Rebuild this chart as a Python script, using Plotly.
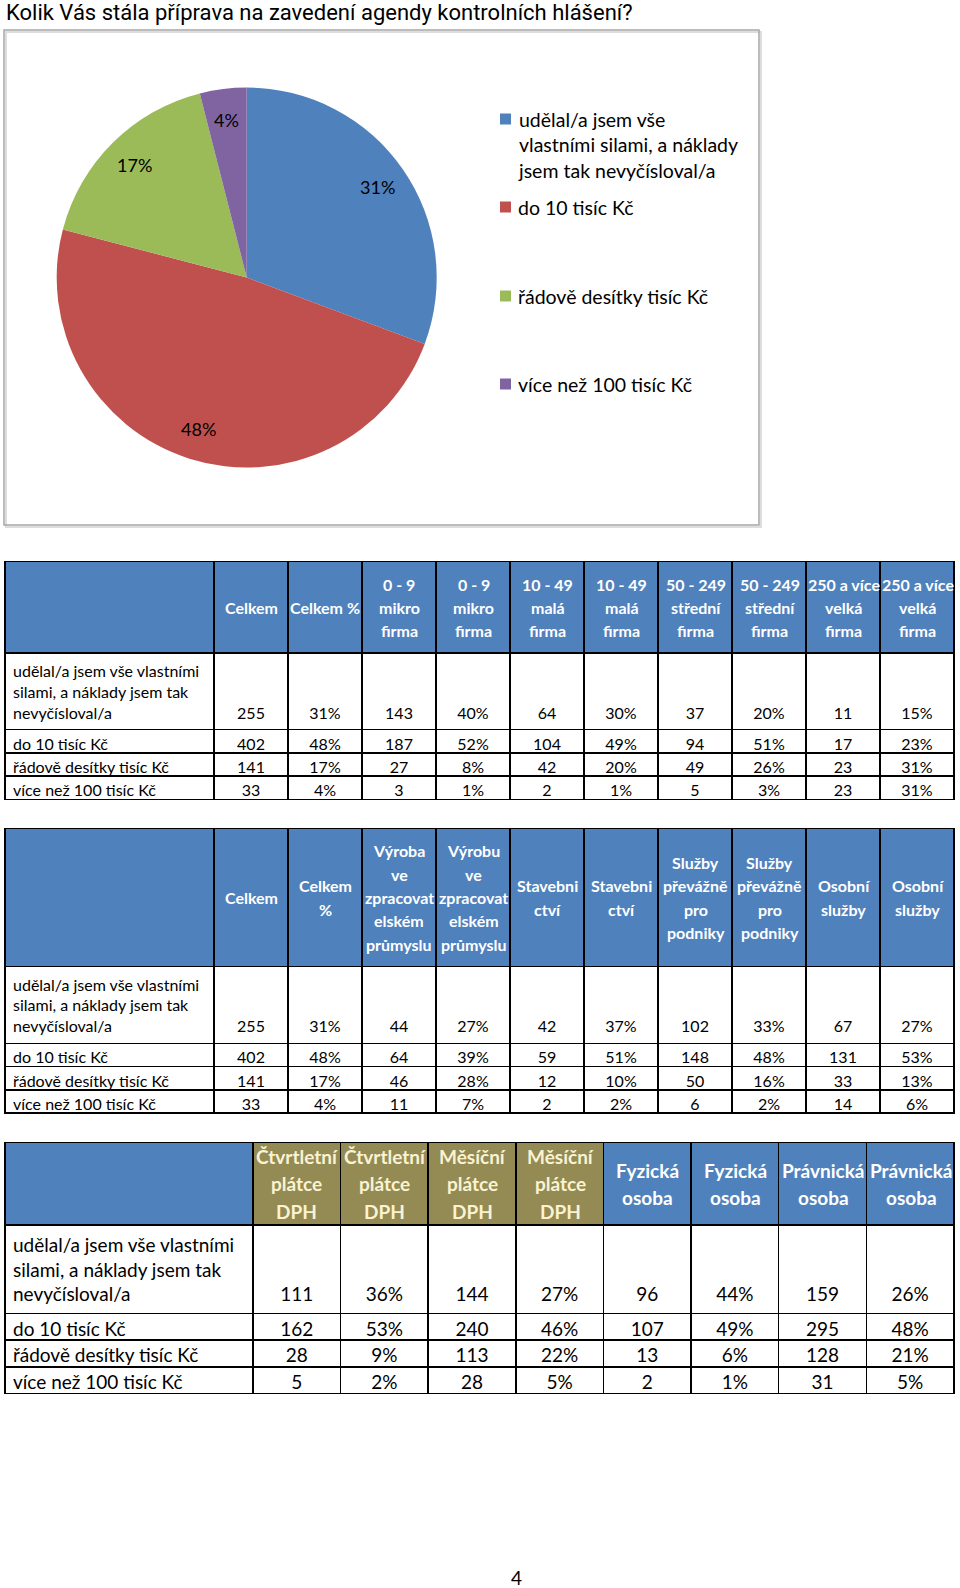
import math
import plotly.graph_objects as go

W, H = 960, 1588

# --- data ---
title = "Kolik Vás stála příprava na zavedení agendy kontrolních hlášení?"
legend_labels = [
    "udělal/a jsem vše<br>vlastními silami, a náklady<br>jsem tak nevyčísloval/a",
    "do 10 tisíc Kč",
    "řádově desítky tisíc Kč",
    "více než 100 tisíc Kč",
]
row_labels = [
    "udělal/a jsem vše vlastními<br>silami, a náklady jsem tak<br>nevyčísloval/a",
    "do 10 tisíc Kč",
    "řádově desítky tisíc Kč",
    "více než 100 tisíc Kč",
]
colors = ["#4F81BD", "#C0504D", "#9BBB59", "#8064A2"]

total_headers = ["Celkem", "Celkem %"]
total_n = [255, 402, 141, 33]
total_pct = [31, 48, 17, 4]

# table 1: firm size
size_headers = ["0 - 9<br>mikro<br>firma", "10 - 49<br>malá<br>firma",
                "50 - 249<br>střední<br>firma", "250 a více<br>velká<br>firma"]
size_n = [[143, 187, 27, 3], [64, 104, 42, 2], [37, 94, 49, 5], [11, 17, 23, 23]]
size_pct = [[40, 52, 8, 1], [30, 49, 20, 1], [20, 51, 26, 3], [15, 23, 31, 31]]

# table 2: sector (count header, percent header)
sector_headers = [
    ("Výroba<br>ve<br>zpracovat<br>elském<br>průmyslu", "Výrobu<br>ve<br>zpracovat<br>elském<br>průmyslu"),
    ("Stavebni<br>ctví", "Stavebni<br>ctví"),
    ("Služby<br>převážně<br>pro<br>podniky", "Služby<br>převážně<br>pro<br>podniky"),
    ("Osobní<br>služby", "Osobní<br>služby"),
]
sector_n = [[44, 64, 46, 11], [42, 59, 12, 2], [102, 148, 50, 6], [67, 131, 33, 14]]
sector_pct = [[27, 39, 28, 7], [37, 51, 10, 2], [33, 48, 16, 2], [27, 53, 13, 6]]

# table 3: VAT payer / legal form
vat_headers = ["Čtvrtletní<br>plátce<br>DPH", "Měsíční<br>plátce<br>DPH",
               "Fyzická<br>osoba", "Právnická<br>osoba"]
vat_n = [[111, 162, 28, 5], [144, 240, 113, 28], [96, 107, 13, 2], [159, 295, 128, 31]]
vat_pct = [[36, 53, 9, 2], [27, 46, 22, 5], [44, 49, 6, 1], [26, 48, 21, 5]]

BLUE_HEAD = "#4F81BD"
OLIVE_HEAD = "#948A54"
OLIVE_TEXT = "#FAF3D2"

annotations = []
shapes = []


def px(x):
    return x / W


def py(y):
    return 1 - y / H


def nb(s):
    return s.replace(" ", "\u00a0")


def col_text(vals, suffix=""):
    out = [f"{v}{suffix}" for v in vals]
    out[0] = "\u00a0<br>\u00a0<br>" + out[0]
    return out


def add_table(fig, headers, head_fills, head_colors, n_cols, pct_cols,
              top, bottom, first_w, other_w, head_h, row_h, fsize, hsize, hspacing):
    labels = [row_labels[0]] + [nb(s) for s in row_labels[1:]]
    values = [labels]
    for n, p in zip(n_cols, pct_cols):
        values.append(col_text(n))
        values.append(col_text(p, "%"))
    ncol = len(values)
    widths = [first_w] + [other_w] * (ncol - 1)
    fig.add_trace(go.Table(
        domain=dict(x=[px(5), px(955)], y=[py(bottom), py(top)]),
        columnwidth=widths,
        header=dict(
            values=[""] * ncol,
            fill_color=head_fills,
            align="center",
            height=head_h,
            line=dict(color="black", width=1.5),
        ),
        cells=dict(
            values=values,
            fill_color="white",
            font=dict(family="Lato", size=fsize, color="black"),
            align=["left"] + ["center"] * (ncol - 1),
            height=row_h,
            line=dict(color="black", width=1.5),
        ),
    ))
    # header captions, each line centred in its cell
    scale = 950 / sum(widths)
    left = 5
    hcolors = head_colors if isinstance(head_colors, list) else [head_colors] * ncol
    for w, txt, col in zip(widths, headers, hcolors):
        cxp = left + w * scale / 2
        left += w * scale
        if not txt:
            continue
        lines = txt.split("<br>")
        k = len(lines)
        for i, ln in enumerate(lines):
            yy = top + head_h / 2 + (i - (k - 1) / 2) * hspacing
            annotations.append(dict(
                x=px(cxp), y=py(yy), xref="paper", yref="paper",
                xanchor="center", yanchor="middle", text=ln, showarrow=False,
                font=dict(family="Lato", size=hsize, color=col, weight="bold"),
            ))


fig = go.Figure()

# --- pie ---
cx, cy, r = 246.7, 277.5, 190
fig.add_trace(go.Pie(
    values=total_n,
    labels=[s.replace("<br>", " ") for s in legend_labels],
    marker=dict(colors=colors, line=dict(width=0)),
    sort=False,
    direction="clockwise",
    rotation=0,
    textinfo="none",
    showlegend=False,
    domain=dict(x=[px(cx - r), px(cx + r)], y=[py(cy + r), py(cy - r)]),
))

# pie labels from cumulative shares
tot = sum(total_n)
cum = 0
for v, p in zip(total_n, total_pct):
    mid = (cum + v / 2) / tot * 2 * math.pi
    cum += v
    lx = cx + 0.835 * r * math.sin(mid)
    ly = cy - 0.835 * r * math.cos(mid)
    annotations.append(dict(x=px(lx), y=py(ly), xref="paper", yref="paper",
                            xanchor="center", yanchor="middle",
                            text=f"{p}%", showarrow=False,
                            font=dict(family="Lato", size=18, color="black")))

# chart frame with shadow
shapes.append(dict(type="rect", xref="paper", yref="paper",
                   x0=px(6), x1=px(761), y0=py(527), y1=py(32),
                   line=dict(color="#DDDDDD", width=2), fillcolor="rgba(0,0,0,0)"))
shapes.append(dict(type="rect", xref="paper", yref="paper",
                   x0=px(4), x1=px(759), y0=py(525), y1=py(30),
                   line=dict(color="#A6A6A6", width=1.5), fillcolor="rgba(0,0,0,0)"))

# legend
legend_y = [119, 207, 296, 384]
for lab, c, ly in zip(legend_labels, colors, legend_y):
    shapes.append(dict(type="rect", xref="paper", yref="paper",
                       x0=px(500), x1=px(511), y0=py(ly + 5.5), y1=py(ly - 5.5),
                       line=dict(width=0), fillcolor=c))
    annotations.append(dict(x=px(516), y=py(ly - 13), xref="paper", yref="paper",
                            xanchor="left", yanchor="top", align="left",
                            text=lab, showarrow=False,
                            font=dict(family="Lato", size=19.5, color="black")))

# title
annotations.append(dict(x=px(4), y=py(12), xref="paper", yref="paper",
                        xanchor="left", yanchor="middle", text=title, showarrow=False,
                        font=dict(family="Roboto, sans-serif", size=22, color="black")))
# page number
annotations.append(dict(x=px(516), y=py(1577), xref="paper", yref="paper",
                        xanchor="center", yanchor="middle",
                        text="4", showarrow=False,
                        font=dict(family="Lato", size=19, color="black")))

# --- tables ---
h1 = [""] + total_headers
for h in size_headers:
    h1 += [h, h]
add_table(fig, h1, BLUE_HEAD, "white", [total_n] + size_n, [total_pct] + size_pct,
          561.7, 815, 209.3, 74.1, 91.3, 23.3, 16, 16, 23.3)

h2 = ["", "Celkem", "Celkem<br>%"]
for a, b in sector_headers:
    h2 += [a, b]
add_table(fig, h2, BLUE_HEAD, "white", [total_n] + sector_n, [total_pct] + sector_pct,
          828.3, 1130, 209.3, 74.1, 138.4, 23.3, 16, 16, 23.3)

h3 = [""]
for h in vat_headers:
    h3 += [h, h]
fills3 = [BLUE_HEAD] + [OLIVE_HEAD] * 4 + [BLUE_HEAD] * 4
fc3 = ["white"] + [OLIVE_TEXT] * 4 + ["white"] * 4
add_table(fig, h3, fills3, fc3, vat_n, vat_pct,
          1142.7, 1430, 248.3, 87.8, 82.3, 26.7, 19, 19, 27.7)

fig.update_layout(
    width=W, height=H,
    margin=dict(l=0, r=0, t=0, b=0),
    paper_bgcolor="white",
    plot_bgcolor="white",
    annotations=annotations,
    shapes=shapes,
)

fig.write_html("out.html", config={"displayModeBar": False},
               post_script="document.body.style.margin='0px';")
